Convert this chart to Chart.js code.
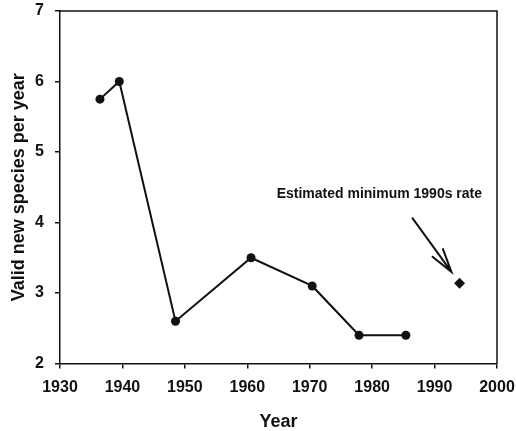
<!DOCTYPE html>
<html>
<head>
<meta charset="utf-8">
<script src="https://cdn.jsdelivr.net/npm/chart.js@4/dist/chart.umd.min.js"></script>
<style>
    html, body { margin: 0; padding: 0; background: #fff; }
    #wrap { width: 516px; height: 431px; }
</style>
</head>
<body>
<div id="wrap"><canvas id="speciesChart" width="516" height="431"></canvas></div>
<script>
const years = [1936.4, 1939.5, 1948.5, 1960.6, 1970.4, 1977.9, 1985.4];
const rates = [5.75, 6.0, 2.6, 3.5, 3.1, 2.4, 2.4];
const estYear = [1994.0];
const estRate = [3.14];
const noteText = 'Estimated minimum 1990s rate';
const notePos = [1964.7, 4.40];
const arrowFrom = [1986.4, 4.07];
const arrowTo = [1992.7, 3.30];

const FONT = "'Liberation Sans', Arial, sans-serif";
const INK = '#111';

// top + right sides of the box, plus the note and arrow
const framePlugin = {
    id: 'frameAndNote',
    afterDraw(chart) {
        const { ctx, chartArea: { left, right, top, bottom }, scales: { x, y } } = chart;
        ctx.save();
        ctx.strokeStyle = INK;
        ctx.lineWidth = 1.5;
        ctx.beginPath();
        ctx.moveTo(left, top);
        ctx.lineTo(right, top);
        ctx.lineTo(right, bottom);
        ctx.stroke();

        ctx.fillStyle = INK;
        ctx.font = `bold 14px ${FONT}`;
        ctx.textAlign = 'left';
        ctx.textBaseline = 'middle';
        ctx.fillText(noteText, x.getPixelForValue(notePos[0]), y.getPixelForValue(notePos[1]));

        const x0 = x.getPixelForValue(arrowFrom[0]), y0 = y.getPixelForValue(arrowFrom[1]);
        const x1 = x.getPixelForValue(arrowTo[0]), y1 = y.getPixelForValue(arrowTo[1]);
        const ang = Math.atan2(y1 - y0, x1 - x0);
        const head = 25, spread = 0.27;
        ctx.lineWidth = 2;
        ctx.beginPath();
        ctx.moveTo(x0, y0);
        ctx.lineTo(x1, y1);
        ctx.moveTo(x1 - head * Math.cos(ang - spread), y1 - head * Math.sin(ang - spread));
        ctx.lineTo(x1, y1);
        ctx.lineTo(x1 - head * Math.cos(ang + spread), y1 - head * Math.sin(ang + spread));
        ctx.stroke();
        ctx.restore();
    }
};
Chart.register(framePlugin);

const ctx = document.getElementById('speciesChart').getContext('2d');
new Chart(ctx, {
    type: 'scatter',
    data: {
        datasets: [{
            data: years.map((yr, i) => ({ x: yr, y: rates[i] })),
            showLine: true,
            borderColor: INK,
            borderWidth: 2,
            backgroundColor: INK,
            pointRadius: 4.5,
            pointBorderWidth: 0
        }, {
            data: estYear.map((yr, i) => ({ x: yr, y: estRate[i] })),
            showLine: false,
            pointStyle: 'rectRot',
            backgroundColor: INK,
            borderColor: INK,
            pointRadius: 5.5,
            pointBorderWidth: 0
        }]
    },
    options: {
        responsive: false,
        animation: false,
        layout: { padding: { top: 11, right: 19, left: 0, bottom: 0 } },
        plugins: { legend: { display: false }, tooltip: { enabled: false } },
        scales: {
            x: {
                type: 'linear',
                min: 1930, max: 2000,
                afterFit: (s) => { s.height = 67.5; s.paddingLeft = 0; s.paddingRight = 0; },
                ticks: {
                    stepSize: 10, color: INK, font: { family: FONT, size: 16, weight: 'bold' },
                    padding: 9, maxRotation: 0, callback: (v) => String(v)
                },
                grid: { drawOnChartArea: false, drawTicks: true, tickLength: 5, color: INK, lineWidth: 1.5 },
                border: { display: true, color: INK, width: 1.5 },
                title: { display: true, text: 'Year', color: INK, font: { family: FONT, size: 18, weight: 'bold' }, padding: { top: 0, bottom: -2 } }
            },
            y: {
                min: 2, max: 7,
                afterFit: (s) => { s.width = 60; s.paddingTop = 0; s.paddingBottom = 0; },
                ticks: { stepSize: 1, color: INK, font: { family: FONT, size: 16, weight: 'bold' }, padding: 11 },
                grid: { drawOnChartArea: false, drawTicks: true, tickLength: 5, color: INK, lineWidth: 1.5 },
                border: { display: true, color: INK, width: 1.5 },
                title: { display: true, text: 'Valid new species per year', color: INK, font: { family: FONT, size: 18, weight: 'bold' }, padding: { top: 8, bottom: 0 } }
            }
        }
    }
});
</script>
</body>
</html>
